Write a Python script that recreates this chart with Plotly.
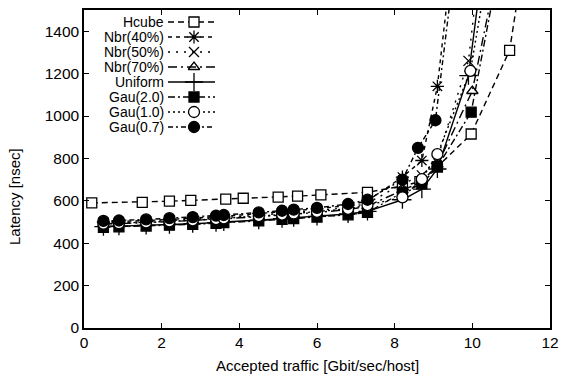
import plotly.graph_objects as go

# ---------------- data ----------------
names = ["Hcube", "Nbr(40%)", "Nbr(50%)", "Nbr(70%)", "Uniform", "Gau(2.0)", "Gau(1.0)", "Gau(0.7)"]

hcube_x = [0.2, 1.5, 2.2, 2.75, 3.65, 4.1, 5.0, 5.5, 6.1, 7.3, 8.2, 8.65, 9.1, 9.97, 10.96, 11.5]
hcube_y = [590, 593, 598, 602, 608, 612, 617, 622, 628, 640, 670, 690, 760, 915, 1310, 1950]

base_x = [0.5, 0.9, 1.6, 2.2, 2.8, 3.4, 3.6, 4.5, 5.1, 5.4, 6.0, 6.8, 7.3, 8.2, 8.7, 9.1]

nbr40_x = base_x + [9.5]
nbr40_y = [500, 502, 507, 512, 518, 524, 527, 540, 548, 553, 562, 578, 600, 712, 790, 1140, 1780]

nbr50_x = base_x + [9.9, 10.3]
nbr50_y = [495, 497, 502, 507, 512, 518, 521, 532, 540, 545, 554, 568, 588, 680, 720, 800, 1260, 1900]

nbr70_x = base_x + [10.0, 10.7]
nbr70_y = [490, 492, 497, 502, 507, 512, 515, 525, 532, 537, 545, 558, 575, 650, 690, 770, 1118, 1750]

uni_x = base_x + [9.9, 10.4]
uni_y = [478, 480, 484, 488, 492, 497, 500, 509, 516, 520, 527, 538, 550, 605, 655, 750, 1190, 1900]

gau20_x = base_x + [9.97, 10.7]
gau20_y = [475, 477, 481, 485, 489, 494, 497, 505, 512, 516, 523, 534, 545, 640, 680, 760, 1018, 1720]

gau10_x = base_x + [9.95, 10.5]
gau10_y = [492, 494, 498, 503, 508, 514, 517, 528, 535, 540, 548, 562, 580, 616, 702, 820, 1213, 1800]

gau07_x = [0.5, 0.9, 1.6, 2.2, 2.8, 3.4, 3.6, 4.5, 5.1, 5.4, 6.0, 6.8, 7.3, 8.2, 8.6, 9.05, 9.6]
gau07_y = [505, 507, 512, 518, 523, 530, 533, 545, 553, 558, 567, 585, 605, 700, 850, 980, 1800]

x_ticks = [0, 2, 4, 6, 8, 10, 12]
y_ticks = [0, 200, 400, 600, 800, 1000, 1200, 1400]

x_title = "Accepted traffic [Gbit/sec/host]"
y_title = "Latency [nsec]"

# ---------------- styles ----------------
styles = {
    "Hcube":    dict(dash="6px,4px", symbol="square", fill="white", size=10),
    "Nbr(40%)": dict(dash="4px,4px", symbol="asterisk-open", fill="black", size=11),
    "Nbr(50%)": dict(dash="2px,6px", symbol="x-thin-open", fill="black", size=10),
    "Nbr(70%)": dict(dash="9px,4px,2px,4px", symbol="triangle-up-open", fill="black", size=10),
    "Uniform":  dict(dash="solid", symbol="cross-thin-open", fill="black", size=13),
    "Gau(2.0)": dict(dash="7px,3px,2px,3px", symbol="square", fill="black", size=10),
    "Gau(1.0)": dict(dash="2px,3px", symbol="circle", fill="white", size=11),
    "Gau(0.7)": dict(dash="5px,3px,2px,3px", symbol="circle", fill="black", size=11),
}

series = [
    ("Hcube", hcube_x, hcube_y),
    ("Nbr(40%)", nbr40_x, nbr40_y),
    ("Nbr(50%)", nbr50_x, nbr50_y),
    ("Nbr(70%)", nbr70_x, nbr70_y),
    ("Uniform", uni_x, uni_y),
    ("Gau(2.0)", gau20_x, gau20_y),
    ("Gau(1.0)", gau10_x, gau10_y),
    ("Gau(0.7)", gau07_x, gau07_y),
]

FONT = "Liberation Sans, Arial, Helvetica, sans-serif"

fig = go.Figure()

def marker_of(st):
    return dict(symbol=st["symbol"], size=st["size"], color=st["fill"],
                line=dict(color="black", width=1.3))

for name, xs, ys in series:
    st = styles[name]
    fig.add_trace(go.Scatter(
        x=xs, y=ys, mode="lines+markers", name=name, showlegend=False,
        line=dict(color="black", width=1.4, dash=st["dash"]),
        marker=marker_of(st), cliponaxis=True,
    ))

# ---------------- custom legend (text left, sample right) ----------------
L, R, T, B = 84, 11, 10, 50
W, H = 561, 378
PH = H - T - B
PW = W - L - R
leg_x0, leg_x1, leg_mx = 168, 215, 194
leg_y0, leg_dy = 22, 15
for i, name in enumerate(names):
    st = styles[name]
    yy = leg_y0 + i * leg_dy
    fig.add_trace(go.Scatter(
        x=[leg_x0, leg_x1], y=[yy, yy], mode="lines", xaxis="x2", yaxis="y2",
        showlegend=False, hoverinfo="skip",
        line=dict(color="black", width=1.4, dash=st["dash"]),
    ))
    fig.add_trace(go.Scatter(
        x=[leg_mx], y=[yy], mode="markers", xaxis="x2", yaxis="y2",
        showlegend=False, hoverinfo="skip", marker=marker_of(st),
    ))
    fig.add_annotation(
        x=165, y=yy, xref="x2", yref="y2", text=name, showarrow=False,
        xanchor="right", yanchor="middle", borderpad=0,
        font=dict(family=FONT, size=14, color="black"),
    )

# axis titles (placed as in the reference)
fig.add_annotation(
    x=0.5, y=(T + PH - 365) / PH, xref="paper", yref="paper", text=x_title,
    showarrow=False, xanchor="center", yanchor="middle",
    font=dict(family=FONT, size=15, color="black"),
)
fig.add_annotation(
    x=(14 - L) / PW, y=(T + PH - 197) / PH, xref="paper", yref="paper", text=y_title,
    showarrow=False, xanchor="center", yanchor="middle", textangle=-90,
    font=dict(family=FONT, size=15, color="black"),
)

axis_common = dict(
    showgrid=False, zeroline=False, showline=True, linecolor="black", linewidth=1.5,
    mirror="ticks", ticks="inside", ticklen=5, tickwidth=1, tickcolor="black",
    tickfont=dict(family=FONT, size=15.5, color="black"),
)

fig.update_layout(
    width=W, height=H,
    margin=dict(l=L, r=R, t=T, b=B, autoexpand=False),
    paper_bgcolor="white", plot_bgcolor="white",
    xaxis=dict(range=[0, 12], tickvals=x_ticks, ticktext=[str(v) for v in x_ticks],
               **axis_common),
    yaxis=dict(range=[0, 1500], tickvals=y_ticks, ticktext=[str(v) for v in y_ticks],
               **axis_common),
    xaxis2=dict(overlaying="x", range=[L, W - R], visible=False, fixedrange=True),
    yaxis2=dict(overlaying="y", range=[H - B, T], visible=False, fixedrange=True),
    showlegend=False,
)

fig.write_html("out.html", config={"responsive": False, "displayModeBar": False},
               post_script="document.body.style.margin='0px';document.body.style.padding='0px';")
